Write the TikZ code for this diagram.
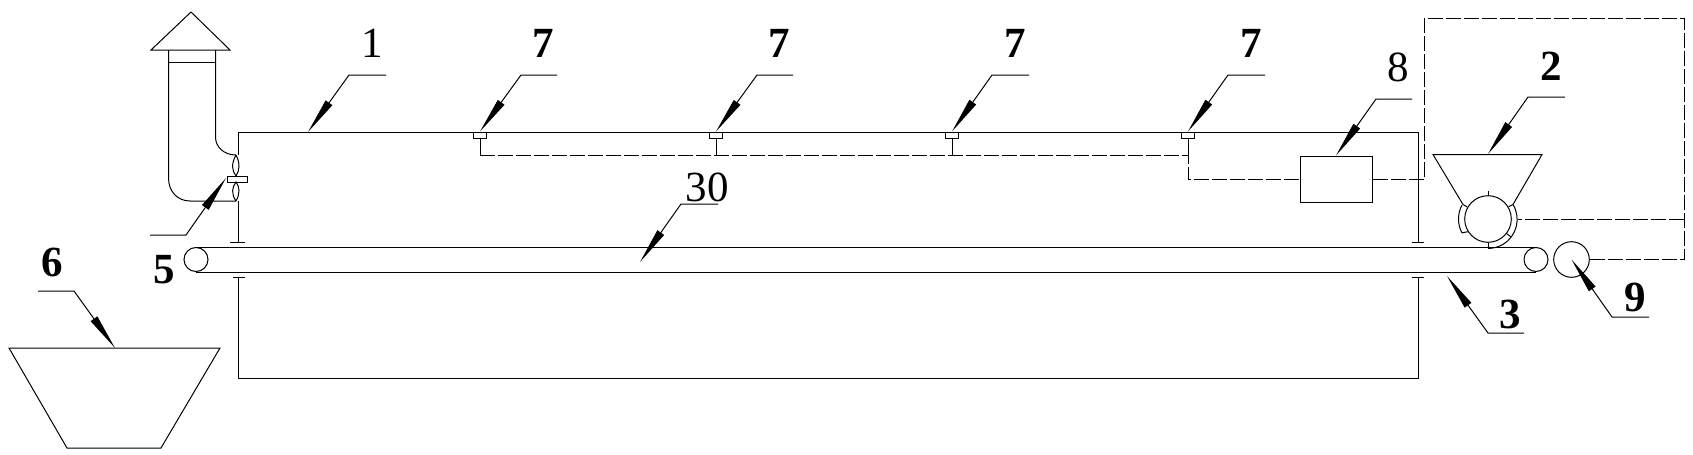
\documentclass[tikz,border=0pt]{standalone}
\usepackage{fontspec}
\setmainfont{Liberation Serif}
\usetikzlibrary{arrows.meta}
\begin{document}
\begin{tikzpicture}[x=0.5pt,y=-0.5pt,line width=0.5pt]
	\tikzstyle{lbl}=[inner sep=0pt, font=\fontsize{21.5}{24}\selectfont]
	\tikzstyle{lblb}=[inner sep=0pt, font=\fontsize{21.5}{24}\selectfont\bfseries]
	\tikzstyle{rect}=[draw, rectangle, inner sep=0pt]
	\tikzstyle{roll}=[draw, circle, inner sep=0pt]
	\tikzstyle{leader}=[-{Triangle[length=18pt,width=4pt]}]
	\tikzstyle{wire}=[dash pattern=on 7.5pt off 1.5pt]
	\useasboundingbox (0,0) rectangle (1693,455);

	% chimney
	\coordinate (capl) at (151,50);
	\coordinate (capt) at (191,12);
	\coordinate (capr) at (230,50);
	\draw (capl) -- (capt) -- (capr) -- cycle;
	\draw (168.5,50) -- (168.5,178) .. controls (168.5,192) and (178,201) .. (190,201) -- (236,201);
	\draw (215.5,50) -- (215.5,137) .. controls (215.5,147) and (224,155) .. (236,155);
	\draw (168.5,62) -- (215.5,62);

	% fan
	\node[rect, minimum width=10pt, minimum height=3pt] (hub) at (237,179) {};
	\draw (236,155) .. controls (231,164) and (232,171) .. (236,176) .. controls (240,170) and (240,163) .. (236,155);
	\draw (236,201) .. controls (231,194) and (232,187) .. (236,182) .. controls (240,187) and (240,194) .. (236,201);

	% chamber
	\draw (238.5,155) -- (238.5,132) -- (1418,132) -- (1418,242);
	\draw (238.5,201) -- (238.5,242);
	\draw (230,242) -- (245,242);
	\draw (1412,242) -- (1424,242);
	\draw (238.5,277) -- (238.5,378) -- (1418,378) -- (1418,277);
	\draw (233,277) -- (245,277);
	\draw (1412,277) -- (1424,277);

	% belt
	\node[roll, minimum size=12pt] (rolll) at (196,259.5) {};
	\node[roll, minimum size=12pt] (rollr) at (1536,259.5) {};
	\draw (rolll.north) -- (rollr.north);
	\draw (rolll.south) -- (rollr.south);
	\node[roll, minimum size=17.8pt] (motor) at (1571.5,259.5) {};

	% bin
	\draw (9,348) -- (220,348) -- (161,448) -- (67,448) -- cycle;

	% feeder
	\node[roll, minimum size=23.3pt] (drum) at (1488,219) {};
	\coordinate (hopl) at (1463,204.5);
	\coordinate (hopr) at (1513,204.5);
	\draw (hopl) -- (1433,154.5) -- (1542,154.5) -- (hopr);
	\draw (1488,191) -- (drum.north);
	\draw (drum.south) -- (1488,248);
	\draw (hopr) arc[start angle=-31,end angle=90,radius=29];
	\draw ([shift={(152:29.5)}]drum.center) arc[start angle=152,end angle=208,radius=29.5];
	\draw ([shift={(152:29.5)}]drum.center) -- ([shift={(148:24)}]drum.center);
	\draw (hopl) -- ([shift={(-150:24)}]drum.center);
	\draw (hopr) -- ([shift={(-31:24)}]drum.center);
	\draw ([shift={(38:29)}]drum.center) -- ([shift={(38:24)}]drum.center);

	% sensors
	\foreach \x/\n in {480/a,716/b,952/c,1188/d} {
		\node[rect, minimum width=6.5pt, minimum height=3pt] (sens\n) at (\x,135) {};
		\draw (sens\n.south) -- (\x,155);
	}
	\node[rect, minimum width=36pt, minimum height=23pt] (box) at (1336,179) {};
	\coordinate (wirea) at (480,155);
	\coordinate (wireb) at (1188,155);
	\coordinate (wirec) at (1188,179);
	\draw[wire] (wirea) -- (wireb) -- (wirec) -- (box.west);
	\draw[wire] (box.east) -- (1424,179) -- (1424,18.5) -- (1684,18.5) -- (1684,259.5) -- (motor.east);
	\draw[wire] (1684,219) -- (1518,219);

	% labels
	\node[lbl] (n1) at (372,43) {1};
	\node[lblb] (n2) at (1551,66) {2};
	\node[lblb] (n3) at (1510,314) {3};
	\node[lblb] (n5) at (164,270) {5};
	\node[lblb] (n6) at (52,262) {6};
	\node[lblb] (n7a) at (543,43) {7};
	\node[lblb] (n7b) at (779,43) {7};
	\node[lblb] (n7c) at (1015,43) {7};
	\node[lblb] (n7d) at (1251,43) {7};
	\node[lbl] (n8) at (1398,67) {8};
	\node[lblb] (n9) at (1635,297) {9};
	\node[lbl] (n30) at (707,187) {30};

	% leaders
	\draw[leader] (386,75) -- (349,75) -- (308,132);
	\draw[leader] (150,235) -- (186,235) -- (226,178);
	\draw[leader] (38,291) -- (74,291) -- (115,348);
	\draw[leader] (557,75) -- (521,75) -- (sensa.north);
	\draw[leader] (793,75) -- (757,75) -- (sensb.north);
	\draw[leader] (1029,75) -- (992,75) -- (sensc.north);
	\draw[leader] (1265,75) -- (1228,75) -- (sensd.north);
	\draw[leader] (1412,99) -- (1376,99) -- (box.north);
	\draw[leader] (1565,97) -- (1528,97) -- (1488,154);
	\draw[leader] (718,204) -- (681,204) -- (640,262);
	\draw[leader] (1524,333) -- (1488,333) -- (1447,276);
	\draw[leader] (1649,317) -- (1612,317) -- (motor.center);
\end{tikzpicture}
\end{document}
